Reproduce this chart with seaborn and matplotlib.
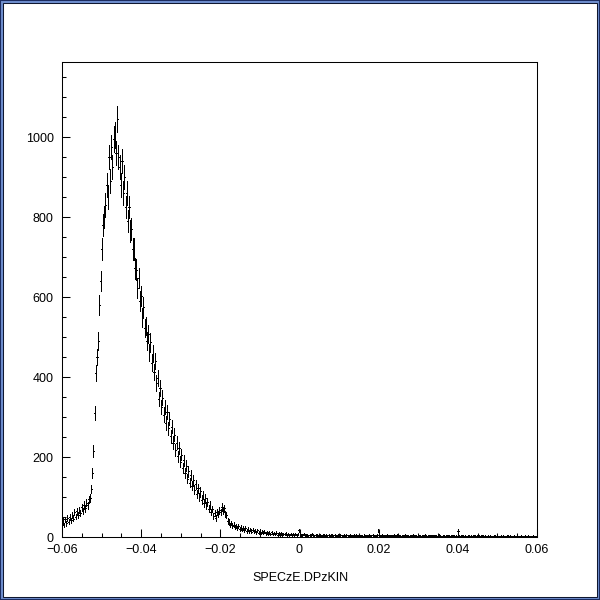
import numpy as np
import matplotlib
matplotlib.use("Agg")
import matplotlib.pyplot as plt
from matplotlib.patches import Rectangle
from matplotlib.ticker import MultipleLocator, FuncFormatter
import seaborn as sns

# histogram of SPECzE.DPzKIN, 400 bins over [-0.06, 0.06], counts
x_min, x_max, n_bins = -0.06, 0.06, 400

left_shoulder = [40, 30, 44, 34, 47, 38, 50, 42, 55, 46, 62, 51, 64, 55,
                 68, 60, 74, 65, 80, 72, 86, 79, 94, 98]
rising_edge = [120, 160, 215, 310, 410, 450, 490, 580, 640, 720, 780, 800]
peak = [830, 880, 850, 950, 890, 975, 925, 995, 1005, 960, 1045, 950,
        925, 880, 940, 860, 900, 825, 860, 790, 825, 765, 770, 720]
falling_edge = [720, 672, 668, 622, 648, 590, 602, 548, 575, 522, 528, 490,
                508, 462, 488, 436, 458, 412, 440, 385, 398, 345, 372, 325,
                348, 305, 325, 285, 312, 272, 296, 252, 276, 236, 256, 218,
                236, 202, 222, 188, 206, 172, 192, 160, 178, 146, 164, 136,
                156, 128, 142, 118, 132, 108, 122, 99, 114, 92, 104, 85,
                98, 78, 88, 70, 80, 62, 70, 52, 60, 48, 62, 58]
bump = [68, 62, 76, 66, 72, 58, 54, 40, 38, 30, 35, 27]
low_tail = [31, 24, 28, 22, 27, 19, 25, 18, 23, 17, 22, 15,
            20, 14, 19, 13, 18, 14, 16, 12, 17, 11, 15, 10,
            14, 10, 13, 9, 12, 9, 11, 8, 12, 7, 10, 8, 11, 6, 9, 8,
            9, 6, 8, 7, 9, 5, 8, 6, 7, 5, 8, 6, 7, 4, 7, 17]
flat_tail = [6, 6, 5, 7, 6, 5, 6, 4, 6, 5, 7, 5, 4, 6, 5, 4, 6, 5, 3, 5,
             5, 4, 6, 4, 5, 3, 5, 6, 4, 5, 4, 3, 5, 4, 6, 4, 3, 5, 4, 5,
             4, 3, 5, 4, 3, 6, 4, 5, 3, 4, 5, 3, 4, 2, 5, 4, 3, 4, 6, 3,
             4, 5, 3, 4, 3, 5, 16, 4, 3, 5, 4, 3, 4, 5, 3, 4, 2, 4, 3, 5,
             3, 4, 5, 3, 4, 2, 4, 3, 5, 3, 4, 3, 2, 4, 3, 5, 3, 4, 2, 3,
             4, 3, 2, 4, 3, 5, 3, 2, 4, 3, 3, 4, 2, 3, 4, 2, 3, 5, 3, 2,
             3, 4, 2, 3, 3, 4, 2, 3, 4, 2, 3, 3, 2, 16, 3, 2, 4, 3, 2, 3,
             2, 3, 4, 2, 3, 2, 3, 4, 2, 3, 2, 3, 2, 4, 3, 2, 3, 2, 3, 2,
             3, 2, 2, 3, 4, 2, 3, 2, 2, 3, 2, 3, 2, 2, 3, 4, 2, 3, 2, 2,
             3, 2, 2, 3, 2, 2, 3, 2, 1, 3, 2, 2, 3, 2, 1, 2, 3, 2, 2, 1]

counts = np.array(left_shoulder + rising_edge + peak + falling_edge
                  + bump + low_tail + flat_tail, dtype=float)
edges = np.linspace(x_min, x_max, n_bins + 1)
centers = 0.5 * (edges[:-1] + edges[1:])
half_w = 0.5 * (edges[1] - edges[0])

sns.set_theme(style="white")
plt.rcParams["font.family"] = ["Liberation Sans", "DejaVu Sans"]

fig = plt.figure(figsize=(6, 6), dpi=100, facecolor="#7090d0")
# canvas bevel like a ROOT window
fig.patches.append(Rectangle((3 / 600, 3 / 600), 594 / 600, 594 / 600,
                             transform=fig.transFigure, facecolor="white",
                             edgecolor="#101830", linewidth=0.75, zorder=-10))
fig.patches.append(Rectangle((0, 0), 1, 1, transform=fig.transFigure,
                             fill=False, edgecolor="#1c2c60", linewidth=1.5,
                             zorder=-9))

ax = fig.add_axes([62 / 600, 63 / 600, 475 / 600, 475 / 600])
ax.set_facecolor("white")
bars = ax.errorbar(centers, counts, yerr=np.sqrt(counts), xerr=half_w,
                   fmt="none", ecolor="black", elinewidth=0.6, capsize=0)
for coll in bars.lines[2]:
    coll.set_antialiased(False)

ax.set_xlim(x_min, x_max)
ax.set_ylim(0, 1187.5)

for s in ax.spines.values():
    s.set_visible(True)
    s.set_color("black")
    s.set_linewidth(0.75)

ax.xaxis.set_major_locator(MultipleLocator(0.02))
ax.xaxis.set_minor_locator(MultipleLocator(0.005))
ax.yaxis.set_major_locator(MultipleLocator(200))
ax.yaxis.set_minor_locator(MultipleLocator(50))
fmt = FuncFormatter(lambda v, p: f"{round(v, 6):g}".replace("-", "\u2212"))
ax.xaxis.set_major_formatter(fmt)
ax.yaxis.set_major_formatter(fmt)

ax.tick_params(which="both", direction="in", top=False, right=False,
               left=True, bottom=True, color="black", width=0.75)
ax.tick_params(which="major", length=6, labelsize=9, labelcolor="black")
ax.tick_params(which="minor", length=3)
ax.tick_params(axis="x", pad=5)
ax.tick_params(axis="y", pad=6)

fig.text(0.5, 1 - 578 / 600, "SPECzE.DPzKIN", ha="center", va="center",
         fontsize=9, color="black")

fig.savefig("out.png", dpi=100, facecolor=fig.get_facecolor())
